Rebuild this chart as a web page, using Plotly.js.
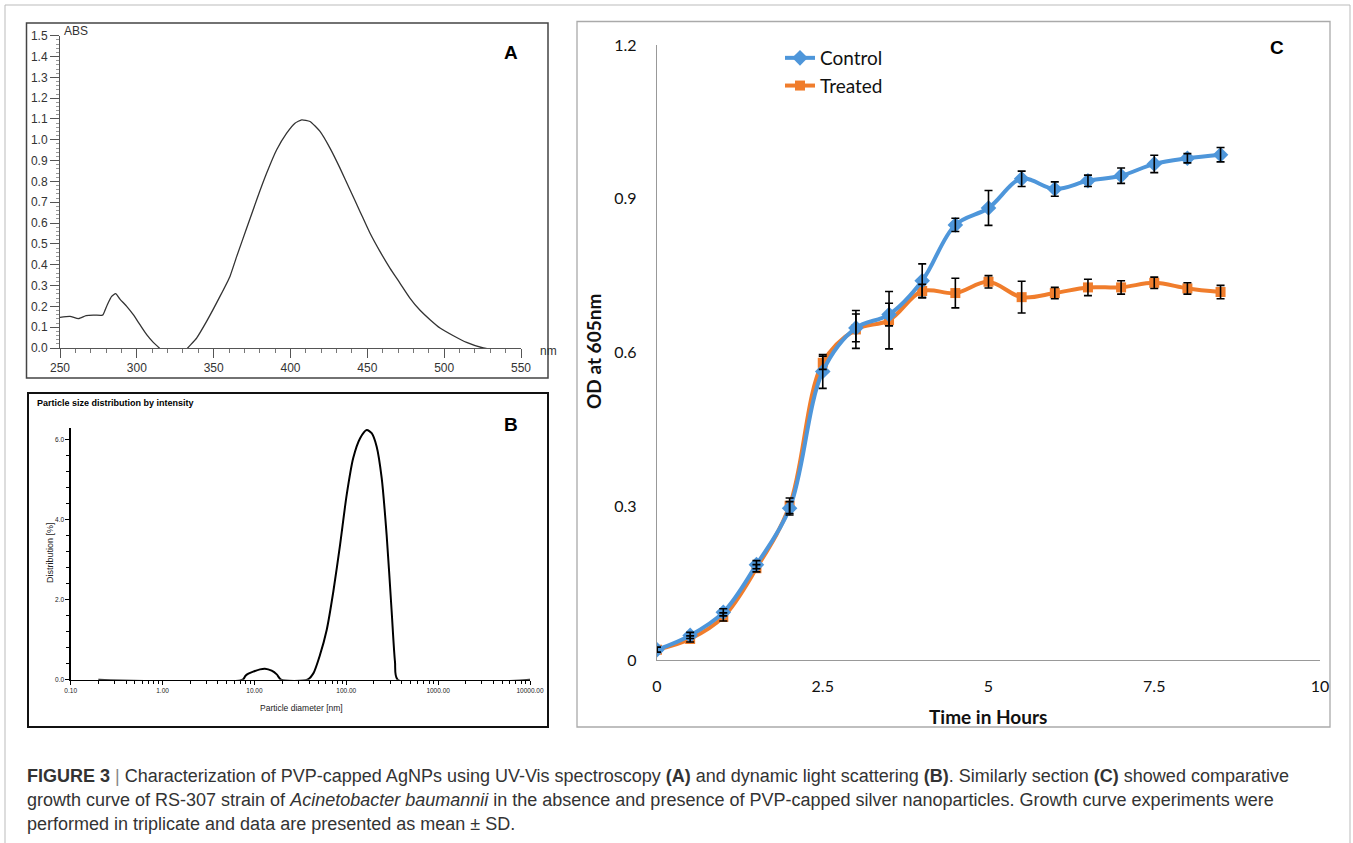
<!DOCTYPE html>
<html>
<head>
<meta charset="utf-8">
<script src="https://cdn.plot.ly/plotly-3.0.1.min.js"></script>
<style>html,body{margin:0;padding:0;background:#fff;}#chart{width:1353px;height:843px;}</style>
</head>
<body>
<div id="chart"></div>
<script>
// ---------- Panel A: UV-Vis spectrum ----------
const wavelengthA = [250,256.5,262,267,271.7,277,278,280.8,283.6,286.2,289,293.4,297.7,302,306.4,310.7,314.6,318,324,330,333.1,338.9,345.4,354.1,360.6,365,371.5,378,384.5,391,397.5,402.9,407.3,412.7,419.2,425.7,432.2,438.7,445.2,451.7,458.2,464.7,471.2,477.7,484.3,490.8,497.3,506,514.6,525.5,535];
const absA = [0.147,0.152,0.141,0.155,0.158,0.157,0.16,0.208,0.248,0.261,0.235,0.2,0.16,0.112,0.064,0.027,0.0,-0.04,-0.06,-0.03,0.0,0.048,0.128,0.248,0.344,0.44,0.576,0.712,0.84,0.952,1.032,1.08,1.096,1.088,1.04,0.96,0.864,0.76,0.656,0.552,0.464,0.384,0.312,0.24,0.181,0.136,0.096,0.059,0.027,0.0,-0.01];

// ---------- Panel B: DLS size distribution ----------
const diameterB = [0.2,7.45,8.0,8.6,9.7,11.5,13.0,15.4,17.5,19.5,37.7,43.8,51.7,61.2,72.3,85.5,101,119,141,167,189,214,243,275,312,339,363,10000];
const distributionB = [0,0,0.1,0.15,0.2,0.258,0.275,0.225,0.133,0,0,0.158,0.616,1.24,2.2,3.36,4.61,5.53,6.02,6.23,6.15,5.82,5.03,3.61,1.70,0.45,0,0];
const tickValsB = [0.1,1,10,100,1000,10000];
const tickTextB = ['0.10','1.00','10.00','100.00','1000.00','10000.00'];
const minorTickValsB = [0.2,0.3,0.4,0.5,0.6,0.7,0.8,0.9,2,3,4,5,6,7,8,9,20,30,40,50,60,70,80,90,200,300,400,500,600,700,800,900,2000,3000,4000,5000,6000,7000,8000,9000];
const yTickValsB = [0,2,4,6];
const yTickTextB = ['0.0','2.0','4.0','6.0'];

// ---------- Panel C: growth curves ----------
const timeC = [0,0.5,1,1.5,2,2.5,3,3.5,4,4.5,5,5.5,6,6.5,7,7.5,8,8.5];
const controlOD = [0.02,0.048,0.093,0.186,0.296,0.563,0.648,0.674,0.740,0.849,0.882,0.939,0.919,0.935,0.945,0.968,0.979,0.986];
const controlSD = [0.005,0.006,0.007,0.008,0.013,0.033,0.027,0.022,0.033,0.013,0.034,0.015,0.014,0.011,0.015,0.017,0.009,0.014];
const treatedOD = [0.02,0.041,0.084,0.179,0.301,0.58,0.645,0.663,0.72,0.716,0.738,0.708,0.716,0.727,0.727,0.736,0.725,0.718];
const treatedSD = [0.005,0.006,0.008,0.007,0.015,0.013,0.037,0.056,0.013,0.029,0.012,0.031,0.011,0.016,0.013,0.011,0.011,0.013];

const W = 1353, H = 843;
const PX = x => x / W;
const PY = y => 1 - y / H;
const domX = (a, b) => [a / W, b / W];
const domY = (top, bottom) => [1 - bottom / H, 1 - top / H];

const fontA = 'Liberation Sans, Arial, sans-serif';
const fontB = 'Liberation Sans, Arial, sans-serif';
const fontC = 'Lato, Open Sans, sans-serif';
const blue = '#4e96da', orange = '#f07d2c';

const traces = [
  {x: wavelengthA, y: absA, xaxis: 'x', yaxis: 'y', mode: 'lines', type: 'scatter',
   line: {color: '#333', width: 1.3, shape: 'spline', smoothing: 0.5}, showlegend: false, hoverinfo: 'skip'},
  {x: diameterB, y: distributionB, xaxis: 'x2', yaxis: 'y2', mode: 'lines', type: 'scatter',
   line: {color: '#000', width: 2, shape: 'spline', smoothing: 0.7}, showlegend: false, hoverinfo: 'skip'},
  {x: timeC, y: treatedOD, xaxis: 'x3', yaxis: 'y3', mode: 'lines+markers', type: 'scatter', name: 'Treated',
   line: {color: orange, width: 4, shape: 'spline', smoothing: 1},
   marker: {symbol: 'square', size: 10, color: orange}, legendrank: 2},
  {x: timeC, y: controlOD, xaxis: 'x3', yaxis: 'y3', mode: 'lines+markers', type: 'scatter', name: 'Control',
   line: {color: blue, width: 4, shape: 'spline', smoothing: 1},
   marker: {symbol: 'diamond', size: 12, color: blue}, legendrank: 1},
  {x: timeC, y: treatedOD, xaxis: 'x3', yaxis: 'y3', mode: 'markers', type: 'scatter', showlegend: false, hoverinfo: 'skip',
   marker: {size: 1, opacity: 0},
   error_y: {type: 'data', array: treatedSD, visible: true, color: '#000', thickness: 1.6, width: 4}},
  {x: timeC, y: controlOD, xaxis: 'x3', yaxis: 'y3', mode: 'markers', type: 'scatter', showlegend: false, hoverinfo: 'skip',
   marker: {size: 1, opacity: 0},
   error_y: {type: 'data', array: controlSD, visible: true, color: '#000', thickness: 1.6, width: 4}}
];

const frame = (x0, y0, x1, y1, color, w) => ({type: 'rect', xref: 'paper', yref: 'paper',
  x0: PX(x0), x1: PX(x1), y0: PY(y1), y1: PY(y0), line: {color: color, width: w}, fillcolor: 'rgba(0,0,0,0)', layer: 'below'});

const ann = (x, y, text, opts) => Object.assign({xref: 'paper', yref: 'paper', x: PX(x), y: PY(y), text: text,
  showarrow: false, xanchor: 'left', yanchor: 'middle'}, opts || {});

const capFont = {family: 'Liberation Sans, Arial, sans-serif', size: 18, color: '#333'};

const layout = {
  width: W, height: H,
  margin: {l: 0, r: 0, t: 0, b: 0, autoexpand: false},
  paper_bgcolor: '#fff', plot_bgcolor: 'rgba(0,0,0,0)',
  showlegend: true,
  legend: {x: PX(780), y: PY(39), xanchor: 'left', yanchor: 'top', bgcolor: 'rgba(0,0,0,0)',
    font: {family: fontC, size: 19, color: '#111'}, traceorder: 'normal', itemwidth: 30},
  // Panel A
  xaxis: {domain: domX(60, 521), range: [250, 550], anchor: 'y', showline: true, linecolor: '#555', linewidth: 1,
    ticks: 'outside', ticklen: 9, tickcolor: '#555', dtick: 50, tick0: 250, showgrid: false, zeroline: false,
    tickfont: {family: fontA, size: 12, color: '#333'},
    minor: {dtick: 10, ticks: 'outside', ticklen: 4, tickcolor: '#777'}},
  yaxis: {domain: domY(35.7, 348), range: [0, 1.5], anchor: 'x', showline: true, linecolor: '#555', linewidth: 1,
    ticks: 'outside', ticklen: 9, tickcolor: '#555', dtick: 0.1, tick0: 0, tickformat: '.1f', showgrid: false, zeroline: false,
    tickfont: {family: fontA, size: 12, color: '#333'},
    minor: {dtick: 0.02, ticks: 'outside', ticklen: 3, tickcolor: '#999'}},
  // Panel B
  xaxis2: {domain: domX(70.7, 530), type: 'log', range: [-1, 4], anchor: 'y2', showline: true, linecolor: '#000', linewidth: 1.3,
    ticks: 'outside', ticklen: 4, tickcolor: '#000', tickmode: 'array', tickvals: tickValsB, ticktext: tickTextB,
    showgrid: false, zeroline: false, tickfont: {family: fontB, size: 6.5, color: '#222'},
    minor: {tickmode: 'array', tickvals: minorTickValsB, ticks: 'outside', ticklen: 3, tickcolor: '#000'}},
  yaxis2: {domain: domY(428, 679.7), range: [0, 6.28], anchor: 'x2', showline: true, linecolor: '#000', linewidth: 1.3,
    ticks: 'outside', ticklen: 4, tickcolor: '#000', tickmode: 'array', tickvals: yTickValsB, ticktext: yTickTextB,
    showgrid: false, zeroline: false, tickfont: {family: fontB, size: 6.5, color: '#222'},
    minor: {dtick: 0.4, tick0: 0, ticks: 'outside', ticklen: 3, tickcolor: '#000'}},
  // Panel C
  xaxis3: {domain: domX(657, 1320), range: [0, 10], anchor: 'y3', showline: true, linecolor: '#999', linewidth: 1.3,
    ticks: 'outside', ticklen: 11, tickcolor: 'rgba(0,0,0,0)', dtick: 2.5, tick0: 0, showgrid: false, zeroline: false,
    tickfont: {family: fontC, size: 16, color: '#111'}},
  yaxis3: {domain: domY(45, 660), range: [0, 1.2], anchor: 'x3', showline: true, linecolor: '#999', linewidth: 1.3,
    ticks: 'outside', ticklen: 16, tickcolor: 'rgba(0,0,0,0)', dtick: 0.3, tick0: 0, showgrid: false, zeroline: false,
    tickfont: {family: fontC, size: 16, color: '#111'}},
  shapes: [
    frame(5, 5, 1350, 848, '#bbbbbb', 1),
    frame(26.5, 23, 548, 378, '#444', 1.5),
    frame(28, 393, 548, 727, '#111', 2),
    frame(577, 21.5, 1330, 727, '#aaaaaa', 1.3)
  ],
  annotations: [
    ann(62, 31, 'ABS', {font: {family: fontA, size: 12, color: '#333'}}),
    ann(538, 351, 'nm', {font: {family: fontA, size: 12, color: '#333'}}),
    ann(511, 52, '<b>A</b>', {xanchor: 'center', font: {family: fontA, size: 19, color: '#000'}}),
    ann(35, 403, '<b>Particle size distribution by intensity</b>', {font: {family: fontB, size: 9, color: '#000'}}),
    ann(511, 424, '<b>B</b>', {xanchor: 'center', font: {family: fontA, size: 19, color: '#000'}}),
    ann(301, 708, 'Particle diameter [nm]', {xanchor: 'center', font: {family: fontB, size: 8.5, color: '#222'}}),
    ann(50, 553, 'Distribution [%]', {xanchor: 'center', textangle: -90, font: {family: fontB, size: 9, color: '#222'}}),
    ann(1277, 47, '<b>C</b>', {xanchor: 'center', font: {family: fontA, size: 19, color: '#000'}}),
    ann(988, 716, '<b>Time in Hours</b>', {xanchor: 'center', font: {family: fontC, size: 19, color: '#111'}}),
    ann(593, 352, '<b>OD at 605nm</b>', {xanchor: 'center', textangle: -90, font: {family: fontC, size: 19, color: '#111'}}),
    ann(25, 776, '<b>FIGURE 3</b> <span style="color:#888">|</span> Characterization of PVP-capped AgNPs using UV-Vis spectroscopy <b>(A)</b> and dynamic light scattering <b>(B)</b>. Similarly section <b>(C)</b> showed comparative', {font: capFont}),
    ann(25, 800, 'growth curve of RS-307 strain of <i>Acinetobacter baumannii</i> in the absence and presence of PVP-capped silver nanoparticles. Growth curve experiments were', {font: capFont}),
    ann(25, 824, 'performed in triplicate and data are presented as mean ± SD.', {font: capFont})
  ]
};

Plotly.newPlot('chart', traces, layout, {staticPlot: true, displayModeBar: false});
</script>
</body>
</html>
